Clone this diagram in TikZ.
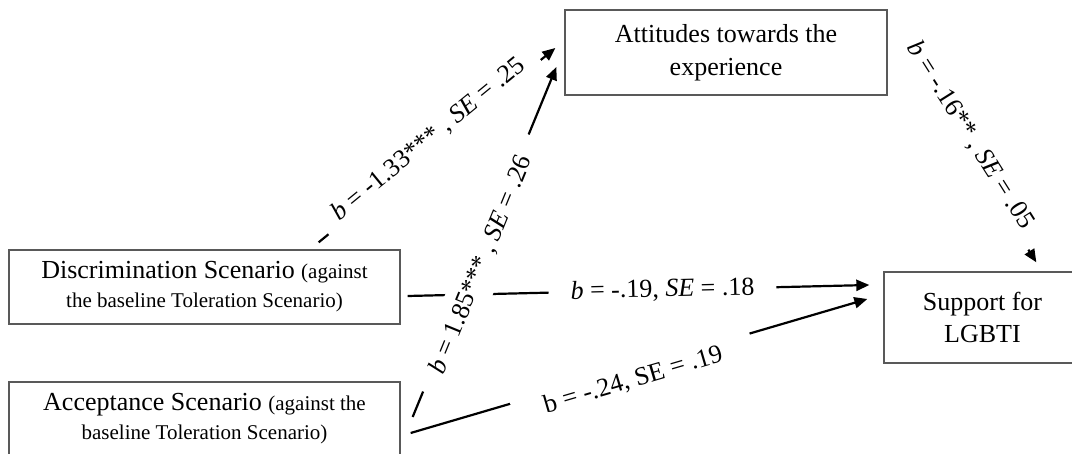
\documentclass[tikz,border=0pt]{standalone}
\usepackage{fontspec}
\setmainfont{Liberation Serif}
\usetikzlibrary{arrows.meta}
\newcommand\smallpart{\fontsize{21}{29}\selectfont}

\begin{document}
\begin{tikzpicture}[x=1pt, y=1pt,
	varbox/.style={draw=black!65, line width=1.3pt, align=center, inner sep=0pt},
	effect/.style={line width=2.2pt, -{Triangle[length=13pt,width=11pt]}},
	coef/.style={fill=white, sloped, font=\fontsize{26}{30}\selectfont, inner xsep=20pt, inner ysep=11pt}]
	\useasboundingbox (0,0) rectangle (1072,453);
	\clip (0,0) rectangle (1072,453);
	\node[varbox, minimum width=322pt, minimum height=85pt, font=\fontsize{26}{33}\selectfont] (att) at (726,400.5) {Attitudes towards the\\experience};
	\node[varbox, minimum width=391pt, minimum height=74pt, font=\fontsize{26}{29}\selectfont] (disc) at (204.5,166) {Discrimination Scenario {\smallpart(against}\\{\smallpart the baseline Toleration Scenario)}};
	\node[varbox, minimum width=391pt, minimum height=74pt, font=\fontsize{26}{29}\selectfont] (acc) at (204.5,34) {Acceptance Scenario {\smallpart(against the}\\{\smallpart baseline Toleration Scenario)}};
	\node[varbox, minimum width=197pt, minimum height=91pt, font=\fontsize{26}{32}\selectfont] (sup) at (982.5,135.5) {Support for\\LGBTI};
	\draw[effect] ([shift={(-82,7)}]disc.north east) -- ([shift={(-9,4.5)}]att.west) node[coef, pos=0.49, yshift=10pt, inner xsep=16pt] {\textit{b} = -1.33*** , \textit{SE} = .25};
	\draw[effect] ([shift={(7,-9)}]disc.east) -- ([shift={(-14,32.5)}]sup.west) node[coef, pos=0.552, inner xsep=22pt] {\textit{b} = -.19, \textit{SE} = .18};
	\draw[effect] ([shift={(12,2)}]acc.east) -- ([shift={(-8,-14.5)}]att.west) node[coef, pos=0.44, yshift=-5.6pt, inner xsep=22pt] {\textit{b} = 1.85*** , \textit{SE} = .26};
	\draw[effect] ([shift={(10,-14)}]acc.east) -- ([shift={(-16,18.5)}]sup.west) node[coef, pos=0.48, yshift=-12pt, inner xsep=32pt] {b = -.24, SE = .19};
	\draw[effect] ([shift={(8,13)}]att.east) -- ([shift={(153,9)}]sup.north west) node[coef, pos=0.46, yshift=12pt, inner xsep=19pt, inner ysep=6pt] {\textit{b} = -.16** , \textit{SE} = .05};
\end{tikzpicture}
\end{document}
